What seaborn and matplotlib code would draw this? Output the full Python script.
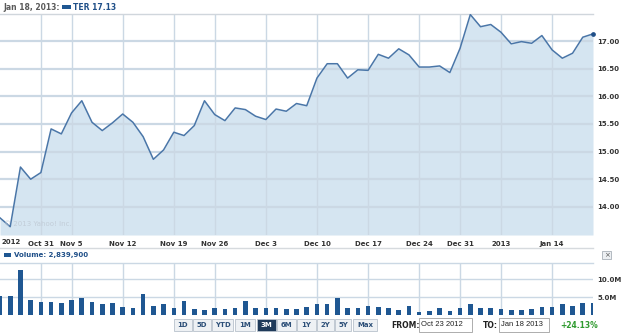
import matplotlib
matplotlib.use("Agg")
import matplotlib.pyplot as plt
from matplotlib.patches import Rectangle
from matplotlib.lines import Line2D
import seaborn as sns
import pandas as pd

# ---------------- data ----------------
dates = ["Oct 23", "Oct 24", "Oct 25", "Oct 26", "Oct 31",
         "Nov 1", "Nov 2", "Nov 5", "Nov 6", "Nov 7", "Nov 8", "Nov 9",
         "Nov 12", "Nov 13", "Nov 14", "Nov 15", "Nov 16",
         "Nov 19", "Nov 20", "Nov 21", "Nov 23",
         "Nov 26", "Nov 27", "Nov 28", "Nov 29", "Nov 30",
         "Dec 3", "Dec 4", "Dec 5", "Dec 6", "Dec 7",
         "Dec 10", "Dec 11", "Dec 12", "Dec 13", "Dec 14",
         "Dec 17", "Dec 18", "Dec 19", "Dec 20", "Dec 21",
         "Dec 24", "Dec 26", "Dec 27", "Dec 28", "Dec 31",
         "Jan 2", "Jan 3", "Jan 4",
         "Jan 7", "Jan 8", "Jan 9", "Jan 10", "Jan 11",
         "Jan 14", "Jan 15", "Jan 16", "Jan 17", "Jan 18"]

price = [13.80, 13.64, 14.72, 14.50, 14.62, 15.41, 15.32, 15.70, 15.92, 15.53,
         15.38, 15.52, 15.68, 15.53, 15.27, 14.86, 15.03, 15.35, 15.29, 15.47,
         15.92, 15.67, 15.56, 15.79, 15.76, 15.64, 15.58, 15.77, 15.73, 15.87,
         15.83, 16.33, 16.59, 16.59, 16.33, 16.48, 16.47, 16.76, 16.69, 16.86,
         16.75, 16.53, 16.53, 16.55, 16.43, 16.87, 17.48, 17.26, 17.30, 17.16,
         16.95, 16.99, 16.96, 17.10, 16.84, 16.69, 16.78, 17.07, 17.13]

volume_m = [5.3, 5.3, 12.5, 4.2, 3.7, 3.7, 3.5, 4.2, 4.8, 3.7,
            3.1, 3.3, 2.4, 1.9, 5.8, 2.6, 3.1, 1.9, 3.9, 1.7,
            1.6, 1.9, 1.7, 1.9, 3.9, 1.9, 1.9, 1.9, 1.7, 1.7,
            2.2, 3.0, 3.0, 4.9, 2.1, 1.9, 2.7, 2.4, 2.1, 1.6,
            2.7, 1.0, 1.3, 2.1, 1.3, 2.1, 3.2, 2.1, 1.9, 1.7,
            1.6, 1.6, 1.7, 2.4, 2.4, 3.1, 2.6, 3.3, 3.4]

tick_dates = ["Oct 31", "Nov 5", "Nov 12", "Nov 19", "Nov 26", "Dec 3",
              "Dec 10", "Dec 17", "Dec 24", "Dec 31", "Jan 7", "Jan 14"]
tick_labels = ["Oct 31", "Nov 5", "Nov 12", "Nov 19", "Nov 26", "Dec 3",
               "Dec 10", "Dec 17", "Dec 24", "Dec 31", "2013", "Jan 14"]
price_ticks = [14.00, 14.50, 15.00, 15.50, 16.00, 16.50, 17.00]
vol_ticks = [5.0, 10.0]
vol_tick_labels = ["5.0M", "10.0M"]
buttons = ["1D", "5D", "YTD", "1M", "3M", "6M", "1Y", "2Y", "5Y", "Max"]
selected_button = "3M"

df = pd.DataFrame({"i": range(len(dates)), "date": dates,
                   "price": price, "volume": volume_m})
tick_pos = [dates.index(d) for d in tick_dates]

# ---------------- style ----------------
W, H = 625, 334
LINE = "#4a76a8"
FILL = "#d5e5f1"
GRID = "#cbd8e4"
BAR = "#1f5792"
TXT = "#333333"

fig = plt.figure(figsize=(W / 100, H / 100), dpi=100)
fig.patch.set_facecolor("white")


def fx(x):
    return x / W


def fy(y):
    return 1 - y / H


def px_rect(x0, y0, x1, y1):
    return [fx(x0), fy(y1), fx(x1) - fx(x0), fy(y0) - fy(y1)]


# ---------------- price axes ----------------
ax = fig.add_axes(px_rect(0, 14, 593, 235))
ymin, ymax = 13.49, 17.49
ax.fill_between(df["i"], df["price"], ymin, color=FILL, lw=0, zorder=0.4)
sns.lineplot(data=df, x="i", y="price", ax=ax, color=LINE, lw=1.1, zorder=3)
ax.plot(df["i"].iloc[-1], df["price"].iloc[-1], marker="o", ms=2.4,
        color="#1f4f88", zorder=4, clip_on=False)
ax.set_xlim(0, len(dates) - 1)
ax.set_ylim(ymin, ymax)
ax.set_axisbelow(True)
ax.set_xticks(tick_pos)
ax.set_xticklabels(tick_labels)
ax.set_yticks(price_ticks)
ax.set_yticklabels([f"{v:.2f}" for v in price_ticks])
ax.yaxis.tick_right()
ax.tick_params(length=0, labelsize=5, labelcolor=TXT)
ax.tick_params(axis="y", pad=3)
ax.tick_params(axis="x", pad=4)
for lab in ax.get_xticklabels() + ax.get_yticklabels():
    lab.set_fontweight("bold")
ax.xaxis.grid(True, color=GRID, lw=1.0)
ax.yaxis.grid(True, color=GRID, lw=1.6)
ax.set_xlabel("")
ax.set_ylabel("")
for s in ["left", "right", "bottom"]:
    ax.spines[s].set_visible(False)
ax.spines["top"].set_color("#d0d6dc")
ax.spines["top"].set_linewidth(1.0)
ax.text(0.006, 0.035, "\u00a9 2013 Yahoo! Inc.", transform=ax.transAxes,
        fontsize=5, color="#c2cdd8", ha="left", va="bottom")
# leftmost partial label
fig.text(fx(1), fy(242), "2012", fontsize=5, fontweight="bold", color=TXT,
         ha="left", va="center")

# header
fig.text(fx(3), fy(7), "Jan 18, 2013:", fontsize=5.5, fontweight="bold",
         color="#5a5a5a", ha="left", va="center")
fig.add_artist(Rectangle((fx(62), fy(9)), fx(9), fy(5) - fy(9),
                         transform=fig.transFigure, color="#1f5792", lw=0))
fig.text(fx(73), fy(7), "TER 17.13", fontsize=5.5, fontweight="bold",
         color="#1f4f88", ha="left", va="center")

# separator line
fig.add_artist(Line2D([fx(0), fx(593)], [fy(248), fy(248)],
                      transform=fig.transFigure, color="#d6dade", lw=1.0))

# volume header
fig.add_artist(Rectangle((fx(4), fy(257)), fx(7), fy(253) - fy(257),
                         transform=fig.transFigure, color="#1f5792", lw=0))
fig.text(fx(14), fy(255), "Volume: 2,839,900", fontsize=5, fontweight="bold",
         color="#1f4f88", ha="left", va="center")
# close button
fig.add_artist(Rectangle((fx(602), fy(259)), fx(9), fy(251) - fy(259),
                         transform=fig.transFigure, facecolor="#eceff2",
                         edgecolor="#a8b0b8", lw=0.6))
fig.text(fx(606.5), fy(255), "\u00d7", fontsize=5, color="#555555",
         ha="center", va="center")

# ---------------- volume axes ----------------
axv = fig.add_axes(px_rect(0, 262.7, 593, 315.3))
sns.barplot(data=df, x="i", y="volume", ax=axv, native_scale=True,
            color=BAR, width=0.45, saturation=1, zorder=3)
axv.set_xlim(0, len(dates) - 1)
axv.set_ylim(0, 14.6)
axv.set_axisbelow(True)
axv.set_xticks(tick_pos)
axv.set_xticklabels([])
axv.set_yticks(vol_ticks)
axv.set_yticklabels(vol_tick_labels)
axv.yaxis.tick_right()
axv.tick_params(length=0, labelsize=5, labelcolor=TXT, pad=3)
for lab in axv.get_yticklabels():
    lab.set_fontweight("bold")
axv.xaxis.grid(True, color=GRID, lw=1.0)
axv.yaxis.grid(True, color=GRID, lw=1.0)
axv.set_xlabel("")
axv.set_ylabel("")
for s in ["left", "right", "bottom"]:
    axv.spines[s].set_visible(False)
axv.spines["top"].set_color(GRID)
axv.spines["top"].set_linewidth(1.0)

# ---------------- range buttons ----------------
btn_x = [(174, 192), (193, 211), (212, 233), (235, 255), (257, 276),
         (277, 296), (297, 316), (317, 334), (335, 351), (353, 377)]
for (x0, x1), lab in zip(btn_x, buttons):
    sel = lab == selected_button
    fig.add_artist(Rectangle((fx(x0), fy(331)), fx(x1 - x0), fy(319) - fy(331),
                             transform=fig.transFigure,
                             facecolor="#1f3a5a" if sel else "#eef1f4",
                             edgecolor="#b8c2cc", lw=0.6))
    fig.text(fx((x0 + x1) / 2), fy(325), lab, fontsize=5, fontweight="bold",
             color="white" if sel else "#2c4f78", ha="center", va="center")

fig.text(fx(391), fy(325), "FROM:", fontsize=5.5, fontweight="bold",
         color="#222222", ha="left", va="center")
fig.add_artist(Rectangle((fx(419), fy(332)), fx(53), fy(318) - fy(332),
                         transform=fig.transFigure, facecolor="white",
                         edgecolor="#a0a0a0", lw=0.6))
fig.text(fx(421), fy(325), "Oct 23 2012", fontsize=5.5, color="#222222",
         ha="left", va="center", family="Liberation Sans")
fig.text(fx(483), fy(325), "TO:", fontsize=5.5, fontweight="bold",
         color="#222222", ha="left", va="center")
fig.add_artist(Rectangle((fx(499), fy(332)), fx(50), fy(318) - fy(332),
                         transform=fig.transFigure, facecolor="white",
                         edgecolor="#a0a0a0", lw=0.6))
fig.text(fx(501), fy(325), "Jan 18 2013", fontsize=5.5, color="#222222",
         ha="left", va="center", family="Liberation Sans")
fig.text(fx(560), fy(325), "+24.13%", fontsize=5.5, fontweight="bold",
         color="#2e9a2e", ha="left", va="center")

fig.savefig("out.png", dpi=100, facecolor="white")
